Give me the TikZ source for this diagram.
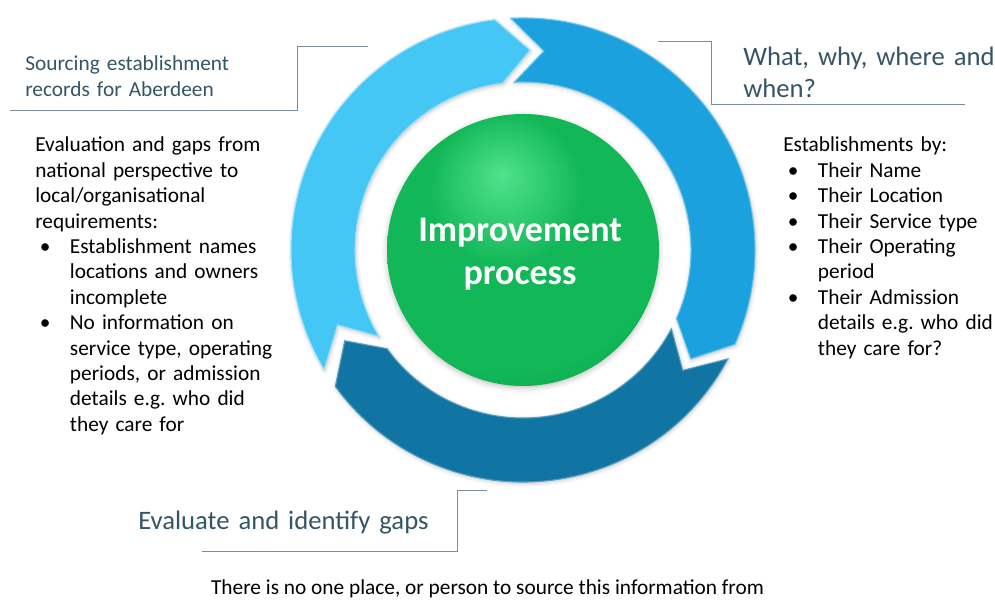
\documentclass[tikz,border=0pt]{standalone}
\usepackage{fontspec}
\setmainfont{Carlito}
\usetikzlibrary{shadows.blur}

\definecolor{arrowlight}{RGB}{68,199,244}
\definecolor{arrowmid}{RGB}{27,161,222}
\definecolor{arrowdark}{RGB}{17,117,163}
\definecolor{headtext}{RGB}{52,86,100}
\definecolor{calloutline}{RGB}{120,142,158}
\definecolor{ballhi}{RGB}{80,226,140}
\definecolor{ballmid}{RGB}{18,184,88}
\definecolor{balledge}{RGB}{10,150,66}
\definecolor{balldark}{RGB}{4,112,48}

\pgfdeclareradialshading{greenball}{\pgfpoint{-4bp}{14bp}}{%
  color(0bp)=(ballhi); color(14bp)=(ballmid); color(30bp)=(ballmid);
  color(44bp)=(balledge); color(52bp)=(balldark); color(70bp)=(balldark)}

\def\ringout{232}
\def\ringin{168}
\def\ringmid{200}
\def\headlen{9}

% one segment of the ring: tail angle, tip angle, style
\newcommand\cyclearrow[3]{%
  \path[#3] (#1:\ringout) arc[start angle=#1, end angle={#2+\headlen}, radius=\ringout]
    -- (#2:\ringmid) -- ({#2+\headlen}:\ringin)
    arc[start angle={#2+\headlen}, end angle=#1, radius=\ringin]
    -- ({#1-\headlen}:\ringmid) -- cycle;}

% bullet line with hanging indent
\newcommand\bul[1]{\par\noindent\hangindent=26pt\hangafter=1
  \makebox[26pt][l]{\hspace{3.5pt}\textbullet}#1\par}

\begin{document}
\begin{tikzpicture}[x=0.75pt,y=0.75pt,
    segment/.style={blur shadow={shadow xshift=0.5pt,shadow yshift=-1pt,shadow blur radius=3pt,shadow opacity=25}},
    heading/.style={font=\fontsize{20pt}{24pt}\selectfont,text=headtext,inner sep=0pt,align=left,text width=260pt},
    smallheading/.style={heading,font=\fontsize{16pt}{19.5pt}\selectfont},
    bodytext/.style={font=\fontsize{16pt}{19.05pt}\selectfont\frenchspacing,inner sep=0pt,align=left},
    callout/.style={draw=calloutline,line width=0.75pt}]
    \useasboundingbox (0,0) rectangle (995,602);

    % The three ring segments
    \begin{scope}[shift={(523,352)}]
        \cyclearrow{211}{88}{segment,fill=arrowlight,draw=arrowlight!55!white,line width=0.8pt}
        \cyclearrow{93}{-33}{segment,fill=arrowmid,draw=arrowmid!65!white,line width=0.8pt}
        \cyclearrow{-28}{-153}{segment,fill=arrowdark,draw=arrowdark!70!white,line width=0.8pt}
    \end{scope}

    % Centre ball
    \node[circle,minimum size=204pt,inner sep=0pt,shading=greenball,
          blur shadow={shadow xshift=0pt,shadow yshift=-1.5pt,shadow blur radius=4pt,shadow opacity=25}]
        (ball) at (523,352) {};
    \node[font=\fontsize{27pt}{32pt}\selectfont\bfseries,text=white,align=center,text width=200pt,inner sep=0pt,anchor=base]
        (proc) at (520,360) {Improvement\\process};

    % Headings with their callout lines
    \node[smallheading,anchor=base west] (src) at (25,531) {Sourcing establishment\\records for Aberdeen};
    \node[heading,anchor=base west] (what) at (743,536) {What, why, where and\\when?};
    \node[heading,anchor=base west] (eval) at (138,72) {Evaluate and identify gaps};

    \coordinate (src-a) at (368,555);
    \coordinate (src-b) at (10,491);
    \draw[callout] (src-a) -- (297,555) |- (src-b);
    \coordinate (what-a) at (658,560);
    \coordinate (what-b) at (965,497);
    \draw[callout] (what-a) -- (711,560) |- (what-b);
    \coordinate (eval-a) at (487,111);
    \coordinate (eval-b) at (202,50);
    \draw[callout] (eval-a) -- (457,111) |- (eval-b);

    % Body text
    \node[bodytext,text width=180pt,anchor=base west] (gaps) at (35,450) {\raggedright
        Evaluation and gaps from\newline national perspective to\newline
        local/organisational\newline requirements:
        \bul{Establishment names\newline locations and owners\newline incomplete}
        \bul{No information on\newline service type, operating\newline periods, or admission\newline
             details e.g. who did\newline they care for}};
    \node[bodytext,text width=160pt,anchor=base west] (estab) at (783,450) {\raggedright
        Establishments by:
        \bul{Their Name}
        \bul{Their Location}
        \bul{Their Service type}
        \bul{Their Operating\newline period}
        \bul{Their Admission\newline details e.g. who did\newline they care for?}};

    \node[bodytext,anchor=base] (note) at (487.5,7) {There is no one place, or person to source this information from};
\end{tikzpicture}
\end{document}
